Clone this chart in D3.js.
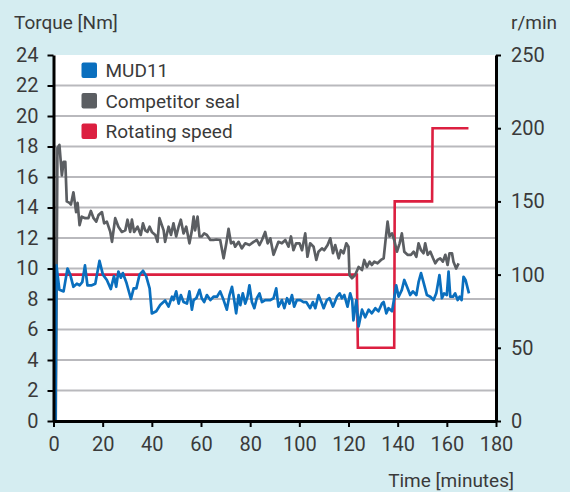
<!DOCTYPE html>
<html>
<head>
<meta charset="utf-8">
<script src="https://cdn.jsdelivr.net/npm/d3@7"></script>
<style>
  html, body { margin: 0; padding: 0; background: #d5edf1; }
  svg { display: block; font-family: Roboto, "Noto Sans", sans-serif; }
</style>
</head>
<body>
<div class="chart-container"></div>
<script>

// MUD11 torque (Nm) over time (minutes)
const mudTime = [0.8, 1.2, 2.4, 4.1, 5.7, 6.8, 8.1, 9.5, 10.6, 11.7, 12.8, 13.8, 15.6, 17.0, 18.7, 20.1,
  21.7, 23.3, 24.6, 25.5, 26.4, 27.4, 28.2, 29.6, 31.5, 32.6, 33.7, 35.0, 36.4, 37.7, 39.1, 40.0,
  41.8, 43.4, 45.4, 46.8, 48.2, 48.8, 49.9, 50.9, 51.8, 52.9, 54.3, 55.3, 56.3, 57.0, 58.1, 59.4,
  60.3, 61.3, 62.4, 63.8, 65.1, 66.5, 67.8, 69.2, 70.5, 71.6, 72.6, 73.5, 74.3, 75.3, 76.0, 77.0,
  78.0, 78.9, 79.7, 80.7, 81.7, 82.7, 83.8, 84.8, 86.1, 88.2, 89.5, 90.6, 91.5, 92.9, 93.9, 95.0,
  96.0, 97.0, 97.9, 99.0, 100.4, 101.7, 102.8, 104.4, 105.5, 106.5, 107.8, 109.2, 109.9, 111.2, 112.3, 113.7,
  115.3, 116.4, 117.3, 118.3, 119.6, 120.7, 121.5, 122.0, 123.2, 124.1, 125.5, 126.8, 128.2, 129.5, 130.9, 132.2,
  133.6, 134.3, 135.4, 136.3, 137.7, 138.6, 139.4, 140.4, 141.7, 142.7, 143.8, 145.1, 146.2, 147.6, 148.5, 149.5,
  150.5, 151.9, 153.3, 154.6, 155.7, 157.0, 158.0, 158.9, 160.0, 160.7, 161.4, 162.5, 163.4, 164.4, 165.2, 166.0,
  166.8, 167.6, 169.0];
const mudTorque = [0, 10.2, 8.6, 8.5, 10.0, 9.6, 8.8, 9.0, 8.9, 9.1, 10.2, 8.9, 8.9, 9.0, 10.5, 9.6,
  9.25, 8.65, 9.5, 8.8, 9.8, 9.4, 9.7, 9.1, 8.0, 8.7, 8.7, 9.6, 9.85, 9.5, 8.7, 7.05,
  7.2, 7.6, 7.9, 7.5, 8.15, 7.93, 8.5, 7.7, 8.26, 7.8, 7.7, 8.5, 7.3, 7.93, 8.05, 8.6,
  8.05, 7.8, 8.26, 7.93, 8.15, 8.15, 8.5, 7.93, 7.3, 8.26, 8.8, 7.93, 7.06, 8.26, 7.6, 8.37,
  7.7, 8.15, 8.9, 7.8, 7.4, 8.05, 8.37, 7.8, 7.93, 7.93, 8.05, 8.7, 7.5, 7.93, 7.4, 8.05,
  7.7, 8.26, 7.5, 7.93, 7.93, 7.8, 7.8, 7.4, 7.8, 7.4, 8.26, 7.7, 7.4, 7.93, 8.05, 7.5,
  8.15, 8.37, 8.05, 8.26, 7.5, 8.37, 7.93, 6.6, 7.93, 6.2, 7.3, 6.8, 7.3, 7.06, 7.4, 7.2,
  7.7, 7.8, 7.06, 7.4, 7.2, 8.05, 8.9, 8.15, 8.6, 9.25, 8.8, 8.26, 8.5, 8.26, 9.1, 9.7,
  9.1, 8.26, 8.15, 7.93, 8.37, 9.57, 8.05, 8.37, 8.26, 9.8, 8.15, 8.15, 8.37, 7.93, 8.15, 7.93,
  9.46, 9.25, 8.37];

// Competitor seal torque (Nm)
const compTime = [0.9, 1.6, 2.4, 3.4, 4.1, 4.8, 5.4, 6.5, 7.1, 8.1, 9.2, 9.8, 10.6, 11.5, 12.9, 14.2,
  15.2, 16.3, 17.4, 18.3, 19.7, 20.6, 21.7, 23.1, 23.8, 25.1, 26.4, 27.8, 29.2, 30.1, 31.2, 31.9,
  32.8, 34.2, 35.5, 36.4, 37.3, 38.2, 39.1, 40.0, 41.4, 42.3, 43.1, 44.8, 45.4, 46.8, 47.8, 48.8,
  49.9, 50.9, 51.8, 52.9, 54.0, 55.3, 56.3, 57.0, 57.6, 58.6, 59.4, 60.3, 61.3, 62.4, 63.8, 65.1,
  66.2, 67.8, 69.2, 70.3, 71.2, 72.2, 73.2, 73.9, 75.3, 76.6, 78.0, 79.7, 81.4, 82.7, 83.8, 84.8,
  86.1, 87.1, 88.2, 89.5, 91.5, 92.9, 94.3, 95.6, 96.6, 97.6, 98.7, 100.1, 101.1, 102.4, 103.3, 104.4,
  105.8, 106.9, 107.8, 109.2, 110.1, 111.5, 112.6, 113.7, 114.6, 116.0, 116.9, 118.0, 119.1, 120.0, 120.4, 121.4,
  122.7, 124.1, 125.5, 126.4, 127.5, 128.6, 129.5, 130.5, 131.8, 133.2, 134.3, 135.0, 135.9, 136.7, 137.7, 138.6,
  139.7, 140.8, 141.7, 142.7, 144.0, 145.4, 146.5, 147.6, 148.5, 149.5, 150.5, 151.2, 152.2, 153.3, 154.4, 155.3,
  156.2, 157.3, 158.4, 159.4, 160.3, 161.1, 162.1, 162.7, 163.8, 164.8];
const compTorque = [0, 17.9, 18.1, 16.1, 17.0, 17.0, 14.4, 14.3, 14.2, 15.0, 13.7, 14.3, 12.85, 13.4, 13.3, 13.3,
  13.77, 13.3, 13.07, 13.5, 13.7, 12.96, 13.07, 12.4, 11.75, 13.3, 12.74, 12.4, 12.5, 13.2, 12.4, 13.2,
  12.4, 12.74, 12.2, 12.96, 12.5, 12.4, 12.74, 12.4, 12.2, 11.75, 13.3, 12.5, 11.75, 12.74, 12.2, 12.96,
  12.1, 12.74, 13.2, 12.3, 12.74, 11.65, 12.5, 13.4, 12.5, 13.4, 12.1, 12.1, 12.3, 12.2, 11.87, 11.87,
  11.9, 11.87, 10.67, 11.65, 12.6, 11.65, 11.75, 11.43, 11.75, 11.32, 11.65, 11.54, 11.75, 11.87, 11.54, 11.87,
  12.4, 11.65, 11.98, 10.9, 11.75, 11.65, 11.87, 11.43, 12.1, 11.2, 11.65, 11.65, 11.2, 12.3, 10.77, 11.65,
  11.43, 10.56, 11.1, 11.32, 11.2, 11.54, 11.98, 11.0, 11.54, 10.67, 11.2, 11.0, 11.65, 11.43, 9.57, 9.36,
  9.57, 10.1, 9.9, 10.56, 10.1, 10.45, 10.23, 10.45, 10.34, 10.56, 10.67, 11.75, 13.07, 12.1, 12.3, 11.87,
  11.1, 11.65, 12.3, 11.1, 10.9, 10.9, 11.1, 10.77, 11.65, 11.2, 11.0, 11.65, 10.9, 11.1, 10.67, 10.34,
  10.56, 10.67, 10.45, 10.9, 10.23, 11.0, 11.0, 10.45, 10.0, 10.34];

// Rotating speed (r/min), step profile
const speedTime = [0, 123.4, 123.8, 138.6, 138.8, 154.0, 154.2, 168.8];
const speedRpm = [100, 100, 50, 50, 150, 150, 200, 200];

const seriesNames = ['MUD11', 'Competitor seal', 'Rotating speed'];
const seriesColors = ['#0a6fbe', '#5b5e62', '#dc1f40'];

const xTicks = [0, 20, 40, 60, 80, 100, 120, 140, 160, 180];
const yLeftTicks = [0, 2, 4, 6, 8, 10, 12, 14, 16, 18, 20, 22, 24];
const yRightTicks = [0, 50, 100, 150, 200, 250];

const width = 570, height = 492;
const margin = {top: 55, right: 74, bottom: 71, left: 53.5};
const innerW = width - margin.left - margin.right;
const innerH = height - margin.top - margin.bottom;
const textColor = '#3a3a3a';

const svg = d3.select('.chart-container').append('svg')
  .attr('width', width)
  .attr('height', height);

const g = svg.append('g')
  .attr('transform', `translate(${margin.left},${margin.top})`);

const xScale = d3.scaleLinear().domain([0, 180]).range([0, innerW]);
const yLeft = d3.scaleLinear().domain([0, 24]).range([innerH, 0]);
const yRight = d3.scaleLinear().domain([0, 250]).range([innerH, 0]);

// plot background
g.append('rect')
  .attr('width', innerW)
  .attr('height', innerH)
  .attr('fill', '#fff');

// gridlines
g.selectAll('.grid')
  .data(yLeftTicks.filter(d => d > 0 && d < 24))
  .enter().append('line')
  .attr('class', 'grid')
  .attr('x1', 0).attr('x2', innerW)
  .attr('y1', d => yLeft(d)).attr('y2', d => yLeft(d))
  .attr('stroke', '#b9b9bd')
  .attr('stroke-width', 2);

// legend (sits on the plot, between gridlines)
const legend = g.selectAll('.legend')
  .data(seriesNames)
  .enter().append('g')
  .attr('class', 'legend')
  .attr('transform', (d, i) => `translate(28,${yLeft(23 - 2 * i)})`);
legend.append('rect')
  .attr('x', 0).attr('y', -7.7)
  .attr('width', 15.5).attr('height', 15.5)
  .attr('rx', 2)
  .attr('fill', (d, i) => seriesColors[i]);
legend.append('text')
  .attr('x', 24).attr('y', 0)
  .attr('dy', '0.36em')
  .attr('fill', textColor)
  .style('font-size', '19px')
  .text(d => d);

// lines
const torqueLine = d3.line()
  .x(d => xScale(d[0]))
  .y(d => yLeft(d[1]));
const speedLine = d3.line()
  .x(d => xScale(d[0]))
  .y(d => yRight(d[1]));

g.append('path')
  .datum(speedTime.map((t, i) => [t, speedRpm[i]]))
  .attr('d', speedLine)
  .attr('fill', 'none')
  .attr('stroke', seriesColors[2])
  .attr('stroke-width', 2.6);

g.append('path')
  .datum(compTime.map((t, i) => [t, compTorque[i]]))
  .attr('d', torqueLine)
  .attr('fill', 'none')
  .attr('stroke', seriesColors[1])
  .attr('stroke-width', 2.7)
  .attr('stroke-linejoin', 'round');

g.append('path')
  .datum(mudTime.map((t, i) => [t, mudTorque[i]]))
  .attr('d', torqueLine)
  .attr('fill', 'none')
  .attr('stroke', seriesColors[0])
  .attr('stroke-width', 2.7)
  .attr('stroke-linejoin', 'round');

// AXES
function styleAxis(sel) {
  sel.select('.domain').attr('stroke', '#000').attr('stroke-width', 3);
  sel.selectAll('.tick line').attr('stroke', '#000').attr('stroke-width', 2);
  sel.selectAll('.tick text')
    .attr('fill', textColor)
    .style('font-size', '20px')
    .style('font-family', 'Roboto, "Noto Sans", sans-serif');
}

g.append('g')
  .attr('transform', `translate(0,${innerH})`)
  .call(d3.axisBottom(xScale).tickValues(xTicks).tickSize(6).tickSizeOuter(0).tickPadding(10))
  .call(styleAxis);

g.append('g')
  .call(d3.axisLeft(yLeft).tickValues(yLeftTicks).tickSize(6).tickSizeOuter(0).tickPadding(9))
  .call(styleAxis);

g.append('g')
  .attr('transform', `translate(${innerW},0)`)
  .call(d3.axisRight(yRight).tickValues(yRightTicks).tickSize(5).tickSizeOuter(0).tickPadding(10))
  .call(styleAxis);

// axis titles
svg.append('text')
  .attr('x', 14).attr('y', 29)
  .attr('fill', textColor)
  .style('font-size', '19px')
  .text('Torque [Nm]');

svg.append('text')
  .attr('x', 511).attr('y', 29)
  .attr('fill', textColor)
  .style('font-size', '19px')
  .text('r/min');

svg.append('text')
  .attr('x', 514).attr('y', 487)
  .attr('text-anchor', 'end')
  .attr('fill', textColor)
  .style('font-size', '19px')
  .text('Time [minutes]');

</script>
</body>
</html>
